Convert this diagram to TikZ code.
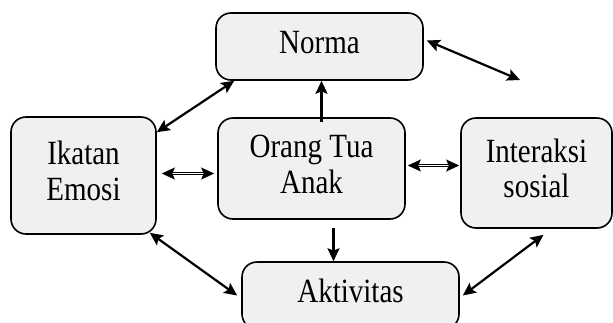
\documentclass[tikz,border=0pt]{standalone}
\usepackage{fontspec}
\setmainfont{Liberation Serif}
\usetikzlibrary{arrows.meta}
\newcommand{\tinggi}[1]{\scalebox{1}[1.17]{\begin{tabular}{@{}c@{}}#1\end{tabular}}}
\begin{document}
\begin{tikzpicture}[x=1pt,y=-1pt,
  box/.style={draw,line width=1.6pt,rounded corners=15pt,fill=black!6,
    align=center,inner sep=0pt,font=\fontsize{29}{30}\selectfont},
  link/.style={line width=2.2pt,{Stealth[length=13pt,width=12pt,inset=2.5pt]}-{Stealth[length=13pt,width=12pt,inset=2.5pt]}},
  flow/.style={line width=2.2pt,-{Stealth[length=13pt,width=12pt,inset=2.5pt]}},
  dbl/.style={link,line width=1.1pt,double,double distance=1.3pt}]
  \useasboundingbox (0,0) rectangle (613,322);
  \node[box,minimum width=207pt,minimum height=67pt] (norma) at (319.5,46.5) {\tinggi{Norma}};
  \node[box,minimum width=145pt,minimum height=117pt] (ikatan) at (83.5,175.5) {\tinggi{Ikatan\\Emosi}};
  \node[box,minimum width=187pt,minimum height=101pt] (orang) at (311.5,168.5) {\tinggi{Orang Tua\\Anak}};
  \node[box,minimum width=151pt,minimum height=110pt] (sosial) at (536.5,173) {\tinggi{Interaksi\\sosial}};
  \node[box,minimum width=217pt,minimum height=67pt] (aktiv) at (350.5,295.5) {\tinggi{Aktivitas}};
  \coordinate (ujung) at (520,80);
  \draw[link] ([xshift=19pt]norma.south west) -- ([yshift=-16pt]ikatan.north east);
  \draw[link] ([xshift=3pt,yshift=6pt]norma.east) -- (ujung);
  \draw[dbl] ([xshift=5pt,yshift=2pt]ikatan.east) -- ([xshift=-3pt,yshift=2pt]ikatan.east -| orang.west);
  \draw[dbl] ([xshift=2pt,yshift=3pt]orang.east) -- ([xshift=-1pt,yshift=3pt]orang.east -| sosial.west);
  \draw[flow] ([xshift=10pt,yshift=-5pt]orang.north) -- ([xshift=10pt]orang.north |- norma.south);
  \draw[flow] ([xshift=22pt,yshift=-8pt]orang.south) -- ([xshift=22pt]orang.south |- aktiv.north);
  \draw[link] ([xshift=-7pt,yshift=2pt]ikatan.south east) -- ([xshift=-4pt]aktiv.west);
  \draw[link] ([xshift=7pt,yshift=-6pt]sosial.south) -- ([xshift=3pt]aktiv.east);
\end{tikzpicture}
\end{document}
